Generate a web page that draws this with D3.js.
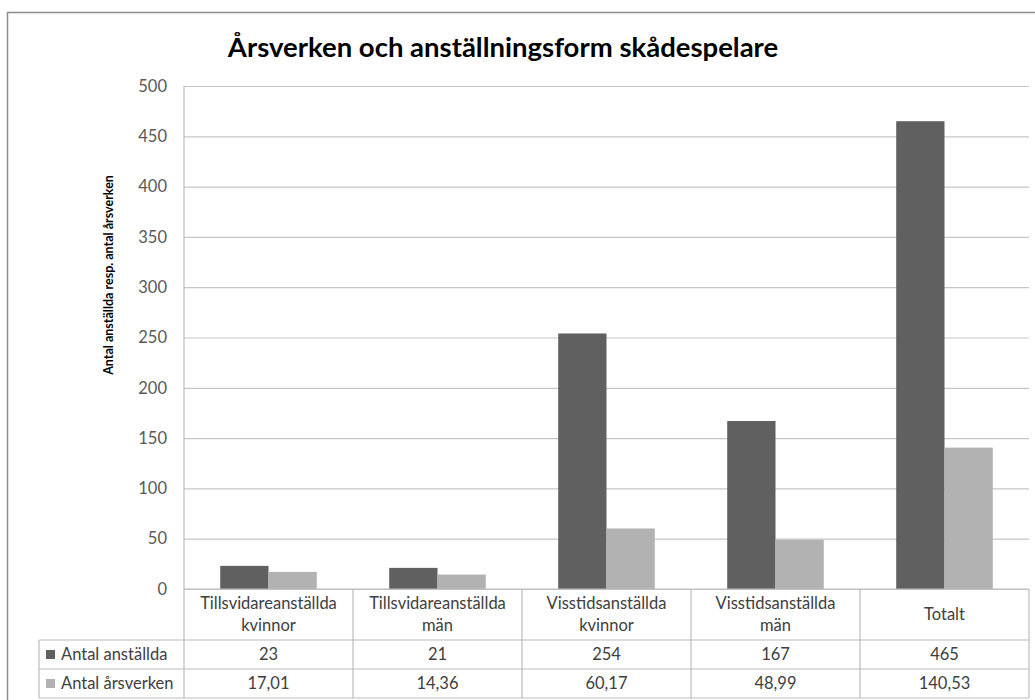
<!DOCTYPE html>
<html><head><meta charset="utf-8">
<script src="https://cdn.jsdelivr.net/npm/d3@7"></script>
<style>body{margin:0;background:#fff}svg{display:block}text{font-family:Lato,"Open Sans",sans-serif}</style>
</head><body>
<svg id="c" width="1035" height="700"></svg>
<script>
const title = "Årsverken och anställningsform skådespelare";
const yTitle = "Antal anställda resp. antal årsverken";
const categories = [["Tillsvidareanställda","kvinnor"],["Tillsvidareanställda","män"],["Visstidsanställda","kvinnor"],["Visstidsanställda","män"],["Totalt"]];
const seriesNames = ["Antal anställda","Antal årsverken"];
const anstallda = [23,21,254,167,465];
const arsverken = [17.01,14.36,60.17,48.99,140.53];
const arsverkenLabels = ["17,01","14,36","60,17","48,99","140,53"];
const yTicks = [0,50,100,150,200,250,300,350,400,450,500];
const colors = ["#606060","#b2b2b2"];

const svg = d3.select("#c");
const L=184, R=1029, T=86, B=589;
const FS=16.5;
svg.append("rect").attr("x",7.5).attr("y",12.5).attr("width",1040).attr("height",700).attr("fill","#fff").attr("stroke","#8c8c8c").attr("stroke-width",1.5);

const y = d3.scaleLinear().domain([0,500]).range([B,T]);
const x = d3.scaleBand().domain(d3.range(categories.length)).range([L,R]).paddingInner(0).paddingOuter(0);
const bw = x.bandwidth();
const xs = d3.scaleBand().domain([0,1]).range([0,bw]).paddingInner(0).paddingOuter(0.75);

// grid
svg.append("g").selectAll("line").data(yTicks).join("line")
  .attr("x1",L).attr("x2",R).attr("y1",d=>y(d)+0.5).attr("y2",d=>y(d)+0.5)
  .attr("stroke","#c6c6c6").attr("stroke-width",1.2);
// y labels
svg.append("g").selectAll("text").data(yTicks).join("text")
  .attr("x",167).attr("y",d=>y(d)).attr("dy","0.35em").attr("text-anchor","end")
  .attr("font-size",FS).attr("fill","#595959").text(d=>d);

// bars
const series=[anstallda,arsverken];
series.forEach((s,si)=>{
  svg.append("g").selectAll("rect").data(s).join("rect")
    .attr("x",(d,i)=>x(i)+xs(si)).attr("width",xs.bandwidth())
    .attr("y",d=>y(d)).attr("height",d=>y(0)-y(d)).attr("fill",colors[si]);
});

// axis & table
const g = svg.append("g").attr("stroke","#bcbcbc").attr("stroke-width",1.2);
g.append("line").attr("x1",L).attr("x2",L).attr("y1",T).attr("y2",698);
g.append("line").attr("x1",L).attr("x2",R).attr("y1",B).attr("y2",B);
const rows=[640,669,698];
rows.forEach(r=>g.append("line").attr("x1",39).attr("x2",R).attr("y1",r).attr("y2",r));
g.append("line").attr("x1",39).attr("x2",39).attr("y1",640).attr("y2",698);
d3.range(categories.length).forEach(i=>{
  g.append("line").attr("x1",x(i)+bw).attr("x2",x(i)+bw).attr("y1",B).attr("y2",698);
});
// category labels
categories.forEach((c,i)=>{
  const cx=x(i)+bw/2;
  const t=svg.append("text").attr("x",cx).attr("text-anchor","middle").attr("font-size",FS).attr("fill","#404040");
  if(c.length===2){
    t.append("tspan").attr("x",cx).attr("y",609).text(c[0]);
    t.append("tspan").attr("x",cx).attr("y",631).text(c[1]);
  } else t.attr("y",620).text(c[0]);
});
// rows
const rowVals=[anstallda.map(String),arsverkenLabels];
rowVals.forEach((vals,ri)=>{
  const cy=(rows[ri]+rows[ri+1])/2;
  svg.append("rect").attr("x",46).attr("y",cy-4.5).attr("width",9).attr("height",9).attr("fill",colors[ri]);
  svg.append("text").attr("x",61).attr("y",cy).attr("dy","0.35em").attr("font-size",FS).attr("fill","#404040").text(seriesNames[ri]);
  vals.forEach((v,i)=>svg.append("text").attr("x",x(i)+bw/2).attr("y",cy).attr("dy","0.35em").attr("text-anchor","middle").attr("font-size",FS).attr("fill","#404040").text(v));
});

svg.append("text").attr("x",503).attr("y",57).attr("text-anchor","middle").attr("font-size",27.5).attr("font-weight","bold").attr("fill","#000").text(title);
svg.append("text").attr("transform","translate(113,275) rotate(-90)").attr("text-anchor","middle").attr("font-size",12.5).attr("font-weight","bold").attr("fill","#000").text(yTitle);
</script>
</body></html>
